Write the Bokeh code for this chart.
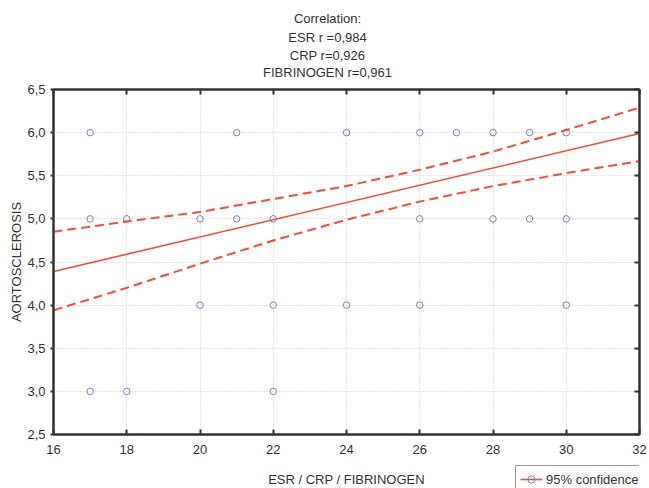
from bokeh.plotting import figure
from bokeh.layouts import column
from bokeh.models import (Range1d, FixedTicker, LinearAxis, Label, Legend, LegendItem,
                          CustomJSTickFormatter, ColumnDataSource)
from bokeh.embed import file_html
from bokeh.resources import INLINE

# ---- data ----
title_lines = ["Correlation:", "ESR r =0,984", "CRP r=0,926", "FIBRINOGEN r=0,961"]
x_label = "ESR / CRP / FIBRINOGEN"
y_label = "AORTOSCLEROSIS"

pts_x = [17, 21, 24, 26, 27, 28, 29, 30,
         17, 18, 20, 21, 22, 26, 28, 29, 30,
         20, 22, 24, 26, 30,
         17, 18, 22]
pts_y = [6.0, 6.0, 6.0, 6.0, 6.0, 6.0, 6.0, 6.0,
         5.0, 5.0, 5.0, 5.0, 5.0, 5.0, 5.0, 5.0, 5.0,
         4.0, 4.0, 4.0, 4.0, 4.0,
         3.0, 3.0, 3.0]

fit_x = [16, 32]
fit_y = [4.39, 5.99]

band_x = [16, 18, 20, 22, 24, 26, 28, 30, 32]
band_upper = [4.85, 4.97, 5.08, 5.23, 5.38, 5.57, 5.78, 6.03, 6.29]
band_lower = [3.94, 4.20, 4.48, 4.75, 4.99, 5.20, 5.38, 5.53, 5.67]

x_ticks = [16, 18, 20, 22, 24, 26, 28, 30, 32]
y_ticks = [2.5, 3.0, 3.5, 4.0, 4.5, 5.0, 5.5, 6.0, 6.5]
legend_label = "95% confidence"

FONT = "Liberation Sans"
TXT = "#333333"
AX = "#333333"
RED = "#f0502f"
BLUE = "#7b7bd6"

W = 649
BL, BR = 53, 10          # left / right borders of the plot frame
H0, H1, H2 = 80, 384, 24
frame_w = W - BL - BR

# ---- top strip: title lines ----
p0 = figure(width=W, height=H0, output_backend="svg", toolbar_location=None,
            x_axis_type=None, y_axis_type=None, min_border=0,
            x_range=Range1d(0, 1), y_range=Range1d(0, 1))
p0.outline_line_color = None
p0.grid.visible = False
title_y = [62, 43, 25, 8]
for t, ty in zip(title_lines, title_y):
    p0.add_layout(Label(x=327 - BL, y=ty, x_units="screen", y_units="screen", text=t,
                        text_font=FONT, text_font_size="13px", text_color=TXT,
                        text_align="center", text_baseline="middle"))

# ---- main plot ----
p = figure(width=W, height=H1, output_backend="svg", toolbar_location=None,
           x_range=Range1d(16, 32), y_range=Range1d(2.5, 6.5),
           min_border_left=BL, min_border_right=BR, min_border_top=9,
           min_border_bottom=30)
p.outline_line_color = AX
p.outline_line_width = 2

xa = p.below[0]
ya = p.left[0]
for ax in (xa, ya):
    ax.axis_line_color = AX
    ax.axis_line_width = 2
    ax.major_tick_line_color = AX
    ax.major_tick_line_width = 2
    ax.minor_tick_line_color = None
    ax.major_label_text_font = FONT
    ax.major_label_text_font_size = "13px"
    ax.major_label_text_color = TXT
    ax.axis_label_text_font = FONT
    ax.axis_label_text_font_size = "13px"
    ax.axis_label_text_font_style = "normal"
    ax.axis_label_text_color = TXT

xa.ticker = FixedTicker(ticks=x_ticks)
ya.ticker = FixedTicker(ticks=y_ticks)
ya.formatter = CustomJSTickFormatter(code="return tick.toFixed(1).replace('.', ',');")
xa.major_tick_in = 5
xa.major_tick_out = 0
ya.major_tick_in = 0
ya.major_tick_out = 3
xa.major_label_standoff = 10
ya.major_label_standoff = 5
ya.axis_label = y_label
ya.axis_label_standoff = 0

top = LinearAxis(ticker=FixedTicker(ticks=x_ticks), major_label_text_font_size="0px",
                 major_tick_in=5, major_tick_out=0, minor_tick_line_color=None,
                 axis_line_color=AX, axis_line_width=2,
                 major_tick_line_color=AX, major_tick_line_width=2,
                 major_label_standoff=0)
right = LinearAxis(ticker=FixedTicker(ticks=y_ticks), major_label_text_font_size="0px",
                   major_tick_in=5, major_tick_out=0, minor_tick_line_color=None,
                   axis_line_color=AX, axis_line_width=2,
                   major_tick_line_color=AX, major_tick_line_width=2,
                   major_label_standoff=0)
p.add_layout(top, "above")
p.add_layout(right, "right")

p.xgrid.ticker = FixedTicker(ticks=x_ticks)
p.ygrid.ticker = FixedTicker(ticks=y_ticks)
p.grid.grid_line_color = "#c8c8c8"
p.grid.grid_line_dash = "1 2"
p.grid.grid_line_width = 1

pts = ColumnDataSource(dict(x=pts_x, y=pts_y))
sc = p.scatter("x", "y", source=pts, marker="circle", size=6.5, fill_color=None,
               line_color=BLUE, line_width=1)
fit = p.line(fit_x, fit_y, line_color=RED, line_width=1.6)
up = p.line(band_x, band_upper, line_color=RED, line_width=2, line_dash="9 5")
lo = p.line(band_x, band_lower, line_color=RED, line_width=2, line_dash="9 5")

# ---- bottom strip: x-axis title and legend ----
p2 = figure(width=W, height=H2, output_backend="svg", toolbar_location=None,
            x_axis_type=None, y_axis_type=None, min_border=0,
            x_range=Range1d(0, 1), y_range=Range1d(0, 1))
p2.outline_line_color = None
p2.grid.visible = False

p2.add_layout(Label(x=frame_w / 2, y=9, x_units="screen", y_units="screen",
                    text=x_label, text_font=FONT, text_font_size="13px", text_color=TXT,
                    text_align="center", text_baseline="middle"))

# legend proxies (their single point lies outside this strip's range, so only the key shows)
leg_line = p2.line(x=fit_x[:1], y=fit_y[:1], line_color=RED, line_width=1.6)
leg_pt = p2.scatter(x=pts_x[:1], y=pts_y[:1], marker="circle", size=6.5, fill_color=None,
                    line_color=BLUE, line_width=1)
legend = Legend(items=[LegendItem(label=legend_label, renderers=[leg_line, leg_pt])],
                location=(462, -5), border_line_color=AX, border_line_width=1,
                padding=4, margin=0, spacing=0, label_height=18, glyph_height=18,
                glyph_width=22, label_standoff=4, label_text_font=FONT,
                label_text_font_size="13px", label_text_color=TXT,
                background_fill_color="white", background_fill_alpha=1)
p2.add_layout(legend, "center")

layout = column(p0, p, p2, spacing=0)
open("out.html", "w").write(file_html(layout, INLINE))
